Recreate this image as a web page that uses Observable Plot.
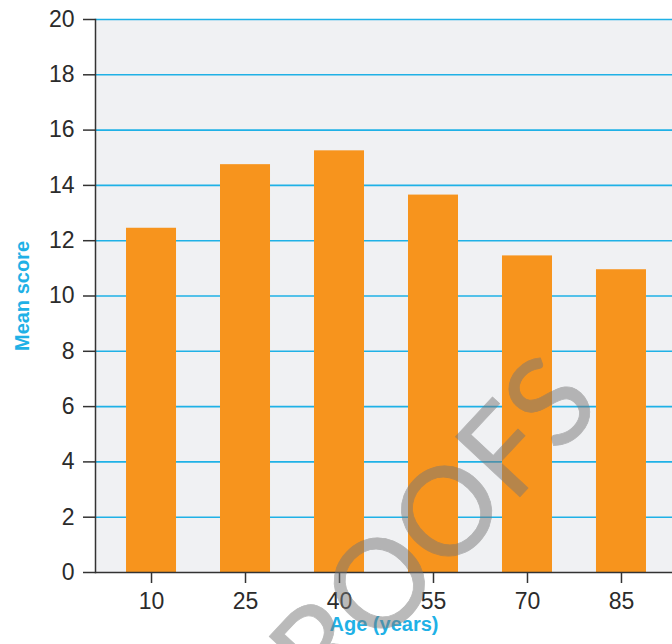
<!DOCTYPE html>
<html>
<head>
<meta charset="utf-8">
<script src="https://cdn.jsdelivr.net/npm/d3@7"></script>
<script src="https://cdn.jsdelivr.net/npm/@observablehq/plot@0.6"></script>
<style>
  html, body { margin: 0; padding: 0; background: #fff; overflow: hidden; }
  #chart svg { display: block; }
</style>
</head>
<body>
<div id="chart"></div>
<script>
// Mean score by age group
const ages = [10, 25, 40, 55, 70, 85];
const meanScores = [12.45, 14.75, 15.25, 13.65, 11.45, 10.95];
const yTicks = [0, 2, 4, 6, 8, 10, 12, 14, 16, 18, 20];
const gridTicks = [2, 4, 6, 8, 10, 12, 14, 16, 18, 20];

const data = ages.map((age, i) => ({age, score: meanScores[i]}));

const orange = "#f7941d";
const cyan = "#1fb1e6";
const ink = "#2b2b2b";
const font = "'Liberation Sans Narrow', 'Arial Narrow', 'Liberation Sans', Arial, sans-serif";

const chart = Plot.plot({
  width: 672,
  height: 644,
  marginTop: 19,
  marginBottom: 72,
  marginLeft: 95,
  marginRight: 0,
  style: {fontFamily: font, background: "#fff", color: ink},
  x: {type: "band", domain: ages, range: [95, 677], paddingInner: 0.468, paddingOuter: 0.33, round: false},
  y: {domain: [0, 20]},
  marks: [
    Plot.frame({fill: "#f0f1f3", stroke: null}),
    Plot.ruleY(gridTicks, {stroke: cyan, strokeWidth: 1.6}),
    Plot.barY(data, {x: "age", y: "score", fill: orange}),
    Plot.axisY({ticks: yTicks, tickSize: 12, tickPadding: 9, fontSize: 23, stroke: "#333", strokeWidth: 1.5, strokeOpacity: 1, label: null, fill: ink}),
    Plot.axisX({tickSize: 11, tickPadding: 9, fontSize: 23, stroke: "#333", strokeWidth: 1.5, strokeOpacity: 1, label: null, fill: ink}),
    Plot.ruleY([0], {stroke: "#333", strokeWidth: 1.5}),
    Plot.frame({anchor: "left", stroke: "#333", strokeWidth: 1.5}),
    Plot.text(["Mean score"], {frameAnchor: "left", textAnchor: "middle", rotate: -90, dx: -73, fill: cyan, fontWeight: "bold", fontSize: 20}),
    Plot.text(["Age (years)"], {frameAnchor: "bottom", dy: 58, fill: cyan, fontWeight: "bold", fontSize: 20}),
    // proof watermark laid over the chart
    Plot.text(["PROOFS"], {frameAnchor: "middle", dx: 27, dy: 260, rotate: -47, fontSize: 123, fontWeight: 400, fontFamily: "Lato, 'Open Sans', sans-serif", fill: "#777", stroke: "#777", strokeWidth: 0.8, opacity: 0.5})
  ]
});

document.getElementById("chart").appendChild(chart);
</script>
</body>
</html>
